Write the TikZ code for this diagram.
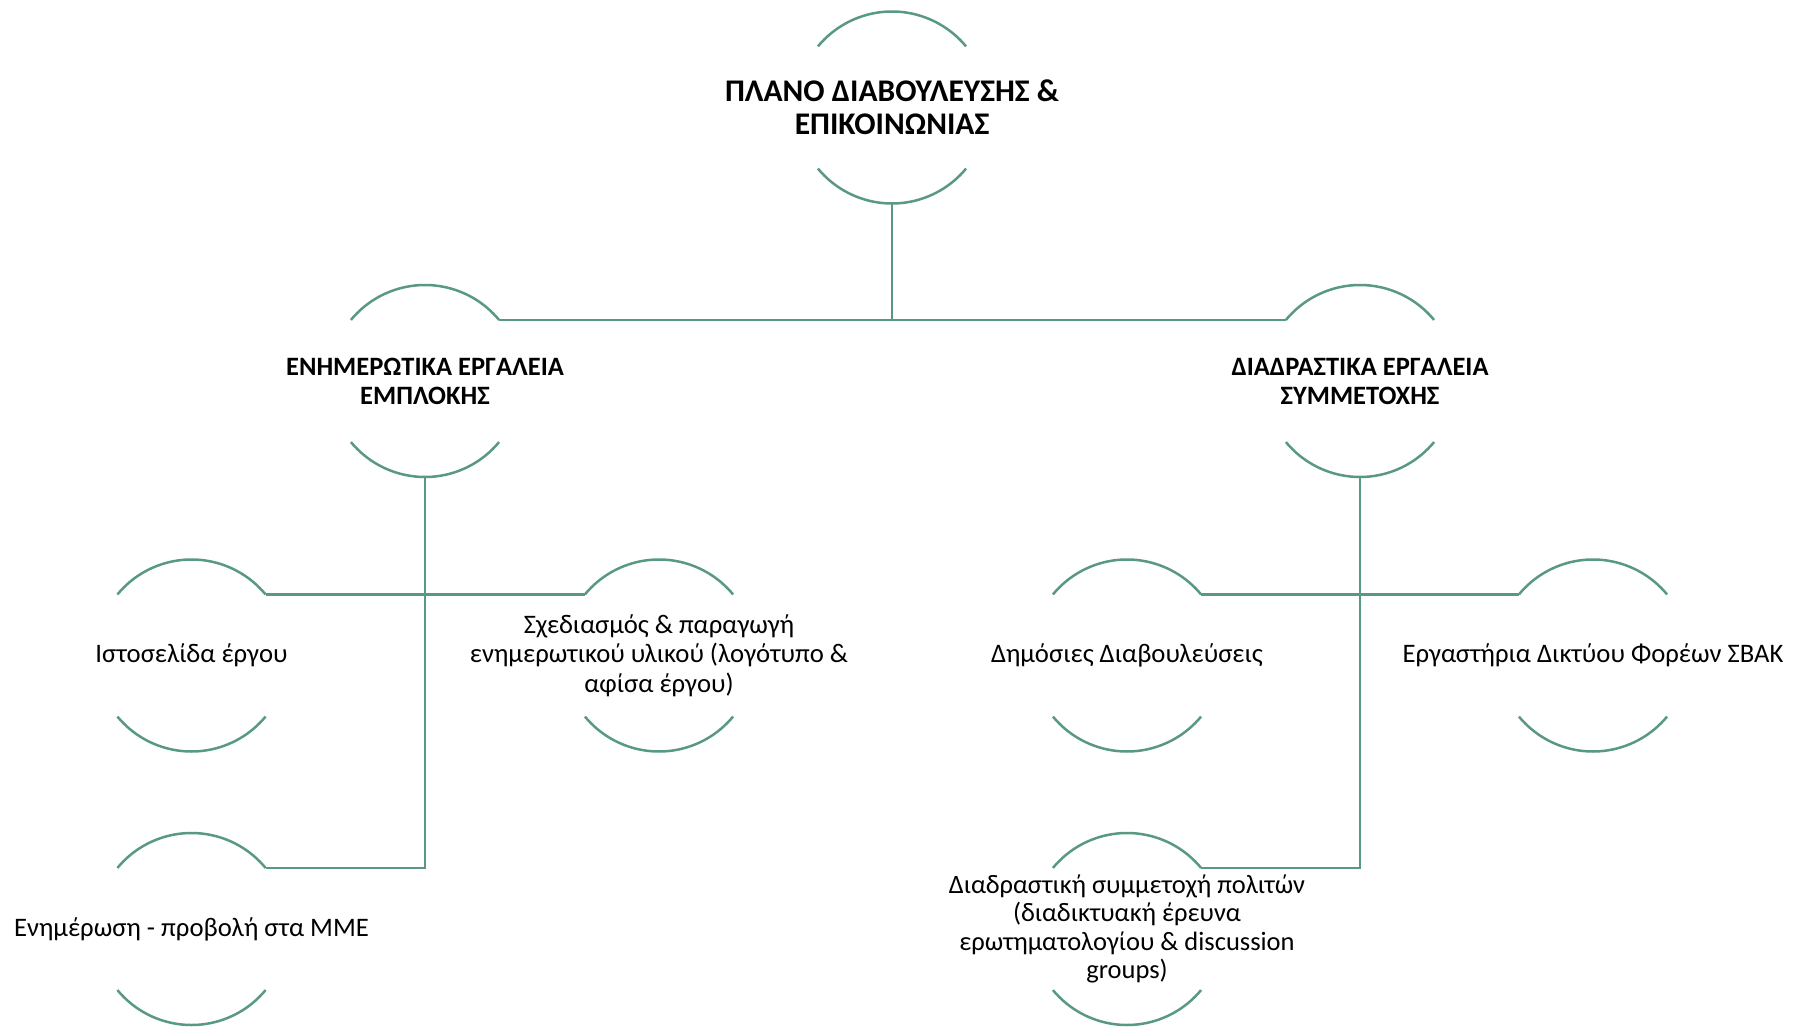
\documentclass[tikz,border=0pt]{standalone}
\usepackage{fontspec}
\setmainfont{Carlito}
\definecolor{ringgreen}{RGB}{88,153,128}
\tikzset{
  ring/.style={circle, minimum size=192pt, inner sep=0pt, outer sep=0pt, draw=none},
  conn/.style={draw=ringgreen, line width=2.5pt},
  toptext/.style={align=center, font=\bfseries\fontsize{31.5}{33}\selectfont, inner sep=0pt},
  midtext/.style={align=center, font=\bfseries\fontsize{26.5}{29}\selectfont, inner sep=0pt},
  leaftext/.style={align=center, font=\fontsize{26.7}{29.3}\selectfont, inner sep=0pt},
  smalltext/.style={align=center, font=\fontsize{26.5}{28.3}\selectfont, inner sep=0pt},
}
\newcommand{\ringUR}[1]{([shift={(39.5:96pt)}]#1.center)}
\newcommand{\ringUL}[1]{([shift={(140.5:96pt)}]#1.center)}
\newcommand{\ringLL}[1]{([shift={(219.5:96pt)}]#1.center)}
\begin{document}
\begin{tikzpicture}[x=1pt,y=1pt]
\useasboundingbox (0,0) rectangle (1796,-1027);
% rings
\node[ring] (top) at (892,-107.5) {};
\node[ring] (inf) at (425,-381) {};
\node[ring] (int) at (1360,-381) {};
\node[ring] (web) at (191.5,-655.5) {};
\node[ring] (des) at (659,-655.5) {};
\node[ring] (pub) at (1127,-655.5) {};
\node[ring] (lab) at (1593,-655.5) {};
\node[ring] (med) at (191.5,-929) {};
\node[ring] (cit) at (1127,-929) {};
% arcs
\foreach \n in {top,inf,int,web,des,pub,lab,med,cit}{
  \draw[conn] \ringUL{\n} arc[start angle=140.5, end angle=39.5, radius=96pt];
  \draw[conn] \ringLL{\n} arc[start angle=219.5, end angle=320.5, radius=96pt];
}
% texts
\node[toptext] (ttop) at (top) {ΠΛΑΝΟ ΔΙΑΒΟΥΛΕΥΣΗΣ \&\\ΕΠΙΚΟΙΝΩΝΙΑΣ};
\node[midtext] (tinf) at (inf) {ΕΝΗΜΕΡΩΤΙΚΑ ΕΡΓΑΛΕΙΑ\\ΕΜΠΛΟΚΗΣ};
\node[midtext] (tint) at (int) {ΔΙΑΔΡΑΣΤΙΚΑ ΕΡΓΑΛΕΙΑ\\ΣΥΜΜΕΤΟΧΗΣ};
\node[leaftext] (tweb) at (web) {Ιστοσελίδα έργου};
\node[leaftext] (tdes) at (des) {Σχεδιασμός \& παραγωγή\\ενημερωτικού υλικού (λογότυπο \&\\αφίσα έργου)};
\node[leaftext] (tpub) at (pub) {Δημόσιες Διαβουλεύσεις};
\node[leaftext] (tlab) at (lab) {Εργαστήρια Δικτύου Φορέων ΣΒΑΚ};
\node[leaftext] (tmed) at (med) {Ενημέρωση - προβολή στα ΜΜΕ};
\node[smalltext] (tcit) at (cit) {Διαδραστική συμμετοχή πολιτών\\(διαδικτυακή έρευνα\\ερωτηματολογίου \& discussion\\groups)};
% connectors
\draw[conn] (top.south) |- \ringUR{inf};
\draw[conn] (top.south) |- \ringUL{int};
\draw[conn] \ringUR{web} -- \ringUL{des};
\draw[conn] (inf.south) |- \ringUR{med};
\draw[conn] \ringUR{pub} -- \ringUL{lab};
\draw[conn] (int.south) |- \ringUR{cit};
\end{tikzpicture}
\end{document}
